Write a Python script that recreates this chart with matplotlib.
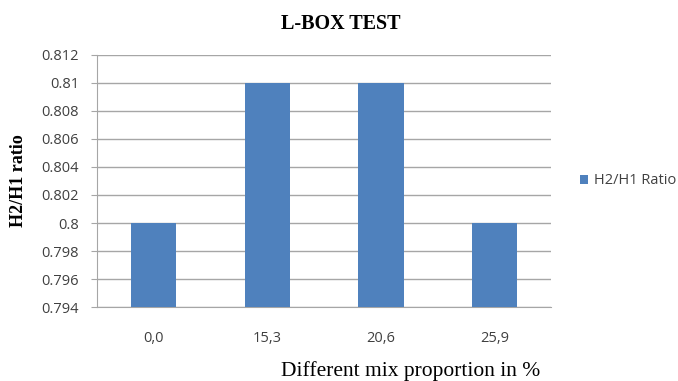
import numpy as np
import matplotlib.pyplot as plt

mixes = ["0,0", "15,3", "20,6", "25,9"]
ratio = [0.800, 0.810, 0.810, 0.800]

fig = plt.figure(figsize=(6.78, 3.81), dpi=100)
ax = fig.add_axes([0.143, 0.194, 0.670, 0.662])

x = np.arange(len(mixes))
ax.bar(x, np.array(ratio) - 0.794, bottom=0.794, width=0.4, color="#4F81BD",
       label="H2/H1 Ratio", zorder=3)

ax.set_ylim(0.794, 0.812)
ax.set_xlim(-0.5, len(mixes) - 0.5)
yt = np.arange(0.794, 0.8121, 0.002)
ax.set_yticks(yt)
ax.set_yticklabels(["0.794", "0.796", "0.798", "0.8", "0.802", "0.804",
                    "0.806", "0.808", "0.81", "0.812"])
ax.set_xticks(x)
ax.set_xticklabels(mixes)
ax.yaxis.grid(True, color="#A6A6A6", linewidth=1.0, zorder=0)
ax.tick_params(axis="y", length=4, color="#A6A6A6", labelsize=10.5,
               labelcolor="#404040", pad=9)
ax.tick_params(axis="x", length=0, labelsize=10.5, labelcolor="#404040", pad=17)
for t in ax.get_xticklabels() + ax.get_yticklabels():
    t.set_family("Open Sans")

for s in ["top", "right"]:
    ax.spines[s].set_visible(False)
ax.spines["left"].set_color("#A6A6A6")
ax.spines["bottom"].set_color("#A6A6A6")

fig.text(0.502, 0.937, "L-BOX TEST", ha="center", va="center",
         family="Liberation Serif", fontweight="bold", fontsize=14.5)
fig.text(0.027, 0.525, "H2/H1 ratio", ha="center", va="center", rotation=90,
         family="Liberation Serif", fontweight="bold", fontsize=13)
fig.text(0.605, 0.025, "Different mix proportion in %", ha="center", va="center",
         family="Liberation Serif", fontsize=15.5)

leg = ax.legend(loc="center left", bbox_to_anchor=(1.035, 0.5), frameon=False,
                handlelength=0.55, handleheight=0.55, handletextpad=0.4,
                prop={"family": "Open Sans", "size": 10.5})
for t in leg.get_texts():
    t.set_color("#404040")

fig.savefig("out.png", dpi=100)
